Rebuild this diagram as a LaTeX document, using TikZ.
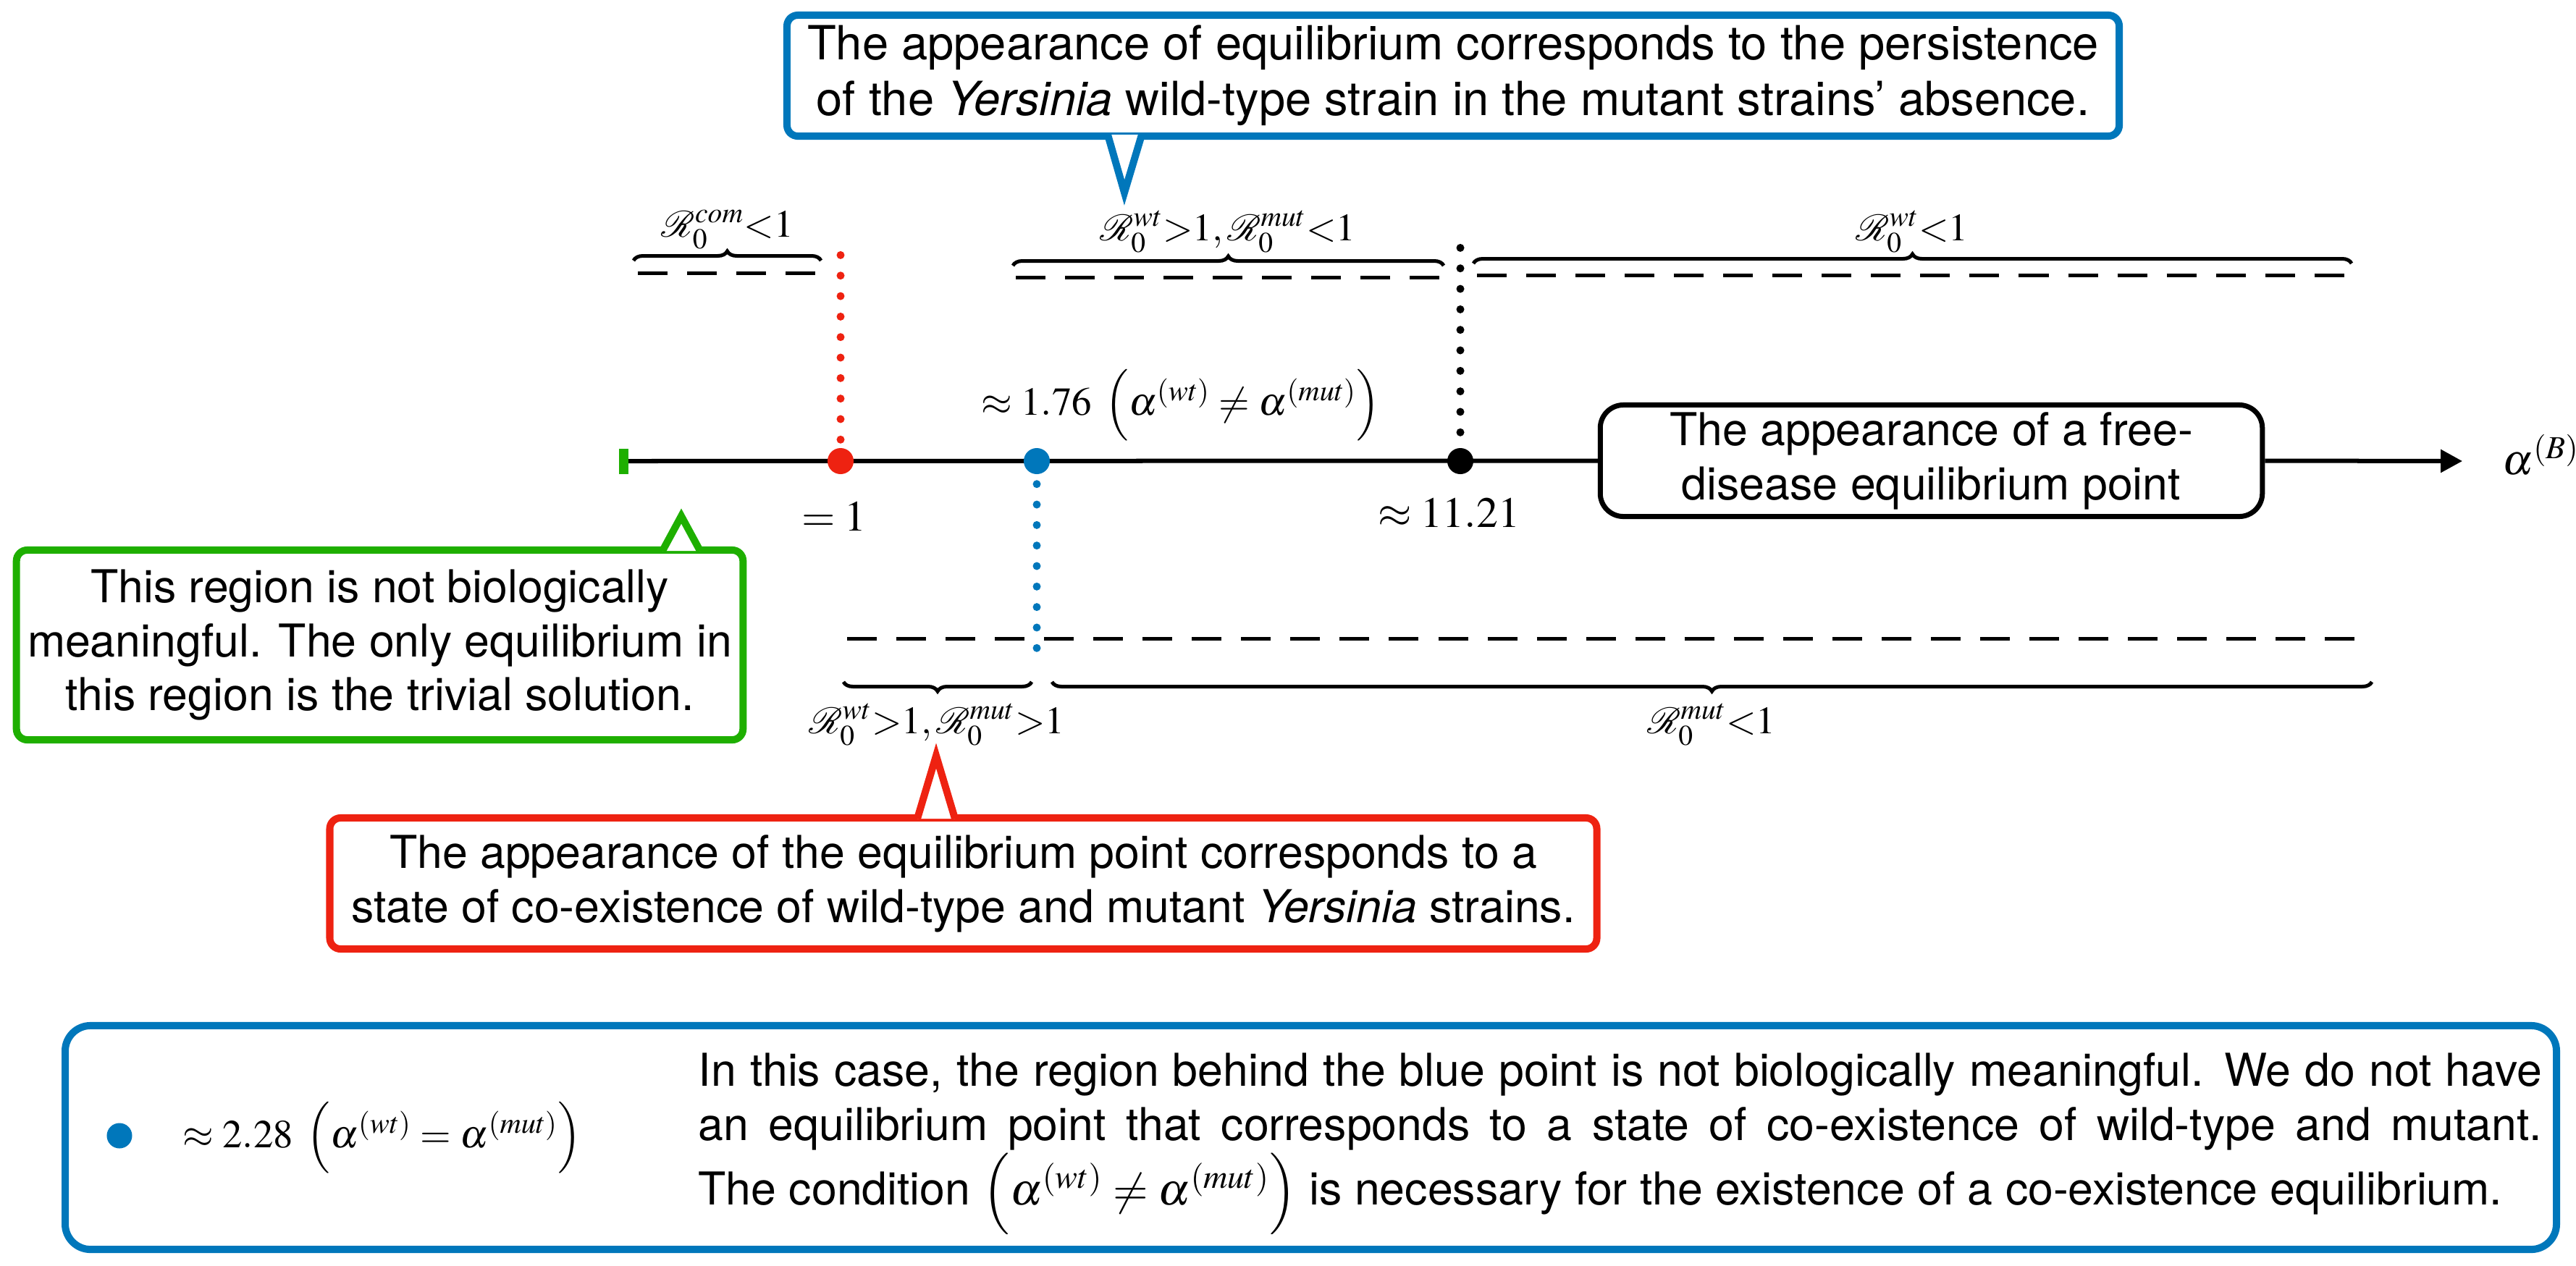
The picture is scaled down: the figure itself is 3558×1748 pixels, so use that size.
\documentclass[tikz,border=0pt]{standalone}
\usepackage{mathptmx}
\usepackage{mathrsfs}
\usepackage[no-math]{fontspec}
\newfontfamily\hv{TeX Gyre Heros}
\usetikzlibrary{arrows.meta,decorations.pathreplacing}
\definecolor{cblue}{RGB}{0,119,187}
\definecolor{cred}{RGB}{238,34,17}
\definecolor{cgreen}{RGB}{30,175,0}
\begin{document}
\begin{tikzpicture}[x=0.01cm,y=-0.01cm,
  txt/.style={font=\hv\fontsize{17.8}{21.3}\selectfont, align=center},
  mth/.style={font=\fontsize{17}{20}\selectfont, inner sep=0},
  mths/.style={font=\fontsize{15.6}{19}\selectfont, inner sep=0},
  rlab/.style={font=\fontsize{15.2}{18}\selectfont, inner sep=0},
  callbox/.style={line width=0.1cm, rounded corners=0.15cm, fill=white, inner sep=0, txt},
  pointer/.style={line width=0.1cm, fill=white, line join=miter},
  axisline/.style={line width=0.06cm},
  ptdot/.style={circle, inner sep=0, minimum size=0.36cm},
  dotline/.style={line width=0.11cm, line cap=round, dash pattern=on 0pt off 0.283cm},
  dashline/.style={line width=0.05cm, dash pattern=on 0.41cm off 0.27cm},
  brc/.style={line width=0.05cm, decorate, decoration={brace, amplitude=0.13cm}},
  brcm/.style={line width=0.05cm, decorate, decoration={brace, mirror, amplitude=0.13cm}}]
\useasboundingbox (0,0) rectangle (3558,1748);

% axis
\node[fill=cgreen, inner sep=0, minimum width=0.13cm, minimum height=0.35cm] (tick) at (861,637) {};
\node[draw, line width=0.07cm, rounded corners=0.32cm, fill=white, inner sep=0,
      minimum width=9.14cm, minimum height=1.54cm, txt] (fd) at (2667.5,636.5)
      {The appearance of a free-\\disease equilibrium point};
\coordinate (tip) at (3401,637);
\draw[axisline] (tick.east) -- (fd.west);
\draw[axisline, -{Triangle[length=0.3cm, width=0.31cm]}] (fd.east) -- (tip);
\node[mth, anchor=base west] (ab) at (3456,655) {$\alpha^{\left(B\right)}$};

% points
\node[ptdot, fill=cred] (p1) at (1161,637) {};
\node[ptdot, fill=cblue] (p2) at (1432,637) {};
\node[ptdot, fill=black] (p3) at (2017,637) {};
\coordinate (rtop) at (1161,350);
\coordinate (ktop) at (2017,340);
\coordinate (bbot) at (1432,896);
\draw[dotline, cred] ([yshift=0.11cm]p1.north) -- (rtop);
\draw[dotline, black] ([yshift=0.21cm]p3.north) -- (ktop);
\draw[dotline, cblue] ([yshift=-0.13cm]p2.south) -- (bbot);

\node[mth, anchor=base] (l1) at (1152,733) {$=1$};
\node[mths, anchor=base] (l2) at (1631,573) {$\approx 1.76\;\left(\alpha^{\left(wt\right)}\neq\alpha^{\left(mut\right)}\right)$};
\node[mth, anchor=base] (l3) at (2001,728) {$\approx 11.21$};

% top regions
\draw[dashline] (881,377) -- (1127,377);
\draw[dashline] (1403,383) -- (1990,383);
\draw[dashline] (2040,380) -- (3245,380);
\draw[brc] (875,360) -- (1134,360);
\draw[brc] (1399,367) -- (1994,367);
\draw[brc] (2035,364) -- (3248,364);
\node[rlab, anchor=base] (t1) at (1005,327) {$\mathscr{R}_0^{com}{<}1$};
\node[rlab, anchor=base] (t2) at (1696,332) {$\mathscr{R}_0^{wt}{>}1,\mathscr{R}_0^{mut}{<}1$};
\node[rlab, anchor=base] (t3) at (2641,332) {$\mathscr{R}_0^{wt}{<}1$};

% bottom regions
\draw[dashline] (1170,882) -- (3272,882);
\draw[brcm] (1165,942) -- (1425,942);
\draw[brcm] (1453,942) -- (3276,942);
\node[rlab, anchor=base] (b1) at (1294,1013) {$\mathscr{R}_0^{wt}{>}1,\mathscr{R}_0^{mut}{>}1$};
\node[rlab, anchor=base] (b2) at (2364,1013) {$\mathscr{R}_0^{mut}{<}1$};

% blue callout
\node[callbox, draw=cblue, font=\hv\fontsize{18.5}{22}\selectfont, minimum width=18.39cm, minimum height=1.67cm] (bc) at (2007,104.5)
  {The appearance of equilibrium corresponds to the persistence\\of the \textit{Yersinia} wild-type strain in the mutant strains’ absence.};
\coordinate (bct) at (1553,266);
\draw[pointer, draw=cblue] (1530,186) -- (bct) -- (1577,186);

% green callout
\node[callbox, draw=cgreen, minimum width=10.03cm, minimum height=2.62cm] (gc) at (524.5,891)
  {This region is not biologically\\meaningful. The only equilibrium in\\this region is the trivial solution.};
\coordinate (gct) at (941,713);
\draw[pointer, draw=cgreen] (915,761) -- (gct) -- (967,761);

% red callout
\node[callbox, draw=cred, minimum width=17.49cm, minimum height=1.81cm] (rc) at (1330.5,1220.5)
  {The appearance of the equilibrium point corresponds to a\\state of co-existence of wild-type and mutant \textit{Yersinia} strains.};
\coordinate (rct) at (1293,1044);
\draw[pointer, draw=cred] (1267,1131) -- (rct) -- (1319,1131);

% bottom box
\node[draw=cblue, line width=0.1cm, rounded corners=0.35cm, inner sep=0,
      minimum width=34.39cm, minimum height=3.09cm] (bb) at (1810.5,1571.5) {};
\node[ptdot, fill=cblue, minimum size=0.35cm] (bdot) at (165,1569) {};
\node[mths, anchor=west] (bm) at (252,1572) {$\approx 2.28\;\left(\alpha^{\left(wt\right)}=\alpha^{\left(mut\right)}\right)$};
\node[font=\hv\fontsize{17.8}{21.3}\selectfont, text width=25.45cm, align=justify, inner sep=0, anchor=west] (bt) at (964,1580)
  {\parfillskip=0pt In this case, the region behind the blue point is not biologically meaningful. We do not have\linebreak
   an equilibrium point that corresponds to a state of co-existence of wild-type and mutant.\linebreak
   The condition $\left(\alpha^{\left(wt\right)}\neq\alpha^{\left(mut\right)}\right)$ is necessary for the existence of a co-existence equilibrium.};
\end{tikzpicture}
\end{document}
